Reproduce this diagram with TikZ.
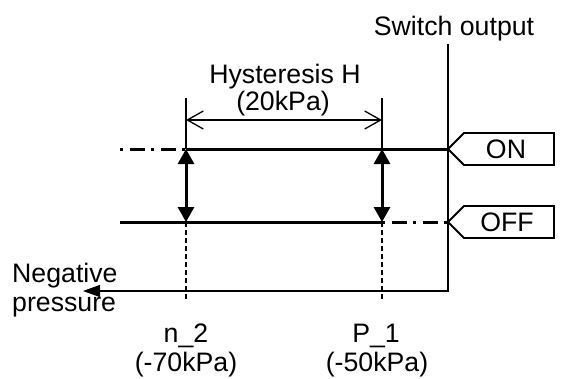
\documentclass[tikz,border=0pt]{standalone}
\usepackage{fontspec}
\setmainfont{Liberation Sans}
\usetikzlibrary{arrows.meta}
\begin{document}
\begin{tikzpicture}[x=1pt,y=-1pt,
  txt/.style={font=\fontsize{26.7}{29}\selectfont, inner sep=0pt, anchor=base},
  thinline/.style={line width=1.3pt},
  heavyline/.style={line width=3pt},
  dashdotline/.style={line width=3pt, dash pattern=on 3pt off 7pt on 15pt off 6pt},
  dashedline/.style={line width=1.2pt, dash pattern=on 5pt off 3pt},
  tagshape/.style={line width=1.8pt, line join=miter},
  bigarrow/.style={line width=3pt, {Triangle[length=15pt,width=16pt]}-{Triangle[length=15pt,width=16pt]}},
  dimarrow/.style={thinline, {Straight Barb[length=16pt,width=18pt]}-{Straight Barb[length=16pt,width=18pt]}}
]
\useasboundingbox (0,0) rectangle (561,378);

% axes
\coordinate (axTop) at (448,44);
\coordinate (origin) at (448,291);
\coordinate (axEnd) at (83,291);
\draw[thinline, -{Triangle[length=17pt,width=12pt]}] (axTop) -- (origin) -- (axEnd);

% key coordinates
\coordinate (onL) at (120,149);
\coordinate (n2on) at (186,149);
\coordinate (p1on) at (382,149);
\coordinate (onR) at (448,149);
\coordinate (offL) at (120,222);
\coordinate (n2off) at (186,222);
\coordinate (p1off) at (382,222);
\coordinate (offR) at (448,222);
\coordinate (n2top) at (186,98);
\coordinate (p1top) at (382,98);
\coordinate (n2dim) at (186,120);
\coordinate (p1dim) at (382,120);
\coordinate (n2bot) at (186,300);
\coordinate (p1bot) at (382,300);

% ON / OFF lines
\draw[dashdotline] (onL) -- (n2on);
\draw[heavyline] (n2on) -- (onR);
\draw[heavyline] (offL) -- (p1off);
\draw[dashdotline] (p1off) -- (offR);

% switching arrows
\draw[bigarrow] (n2on) -- (n2off);
\draw[bigarrow] (p1on) -- (p1off);

% dashed drop lines
\draw[dashedline] (n2off) -- (n2bot);
\draw[dashedline] (p1off) -- (p1bot);

% hysteresis dimension
\draw[thinline] (n2top) -- (n2on);
\draw[thinline] (p1top) -- (p1on);
\draw[dimarrow] (n2dim) -- (p1dim);

% tags
\draw[tagshape] (onR) -- ++(16,-16) -- ++(90,0) -- ++(0,32) -- ++(-90,0) -- cycle;
\draw[tagshape] (offR) -- ++(16,-16) -- ++(90,0) -- ++(0,32) -- ++(-90,0) -- cycle;
\node[txt, anchor=center] (onlbl) at (506,149) {ON};
\node[txt, anchor=center] (offlbl) at (507,222) {OFF};

% texts
\node[txt] (swout) at (454,35) {Switch output};
\node[txt] (hys) at (285,83) {Hysteresis H};
\node[txt] (hysval) at (283,110) {(20kPa)};
\node[txt, anchor=base west] (neg1) at (12,282) {Negative};
\node[txt, anchor=base west] (neg2) at (12,311) {pressure};
\node[txt] (n2lbl) at (186,342) {n\_2};
\node[txt] (n2val) at (186,371) {(-70kPa)};
\node[txt] (p1lbl) at (376,342) {P\_1};
\node[txt] (p1val) at (377,371) {(-50kPa)};
\end{tikzpicture}
\end{document}
